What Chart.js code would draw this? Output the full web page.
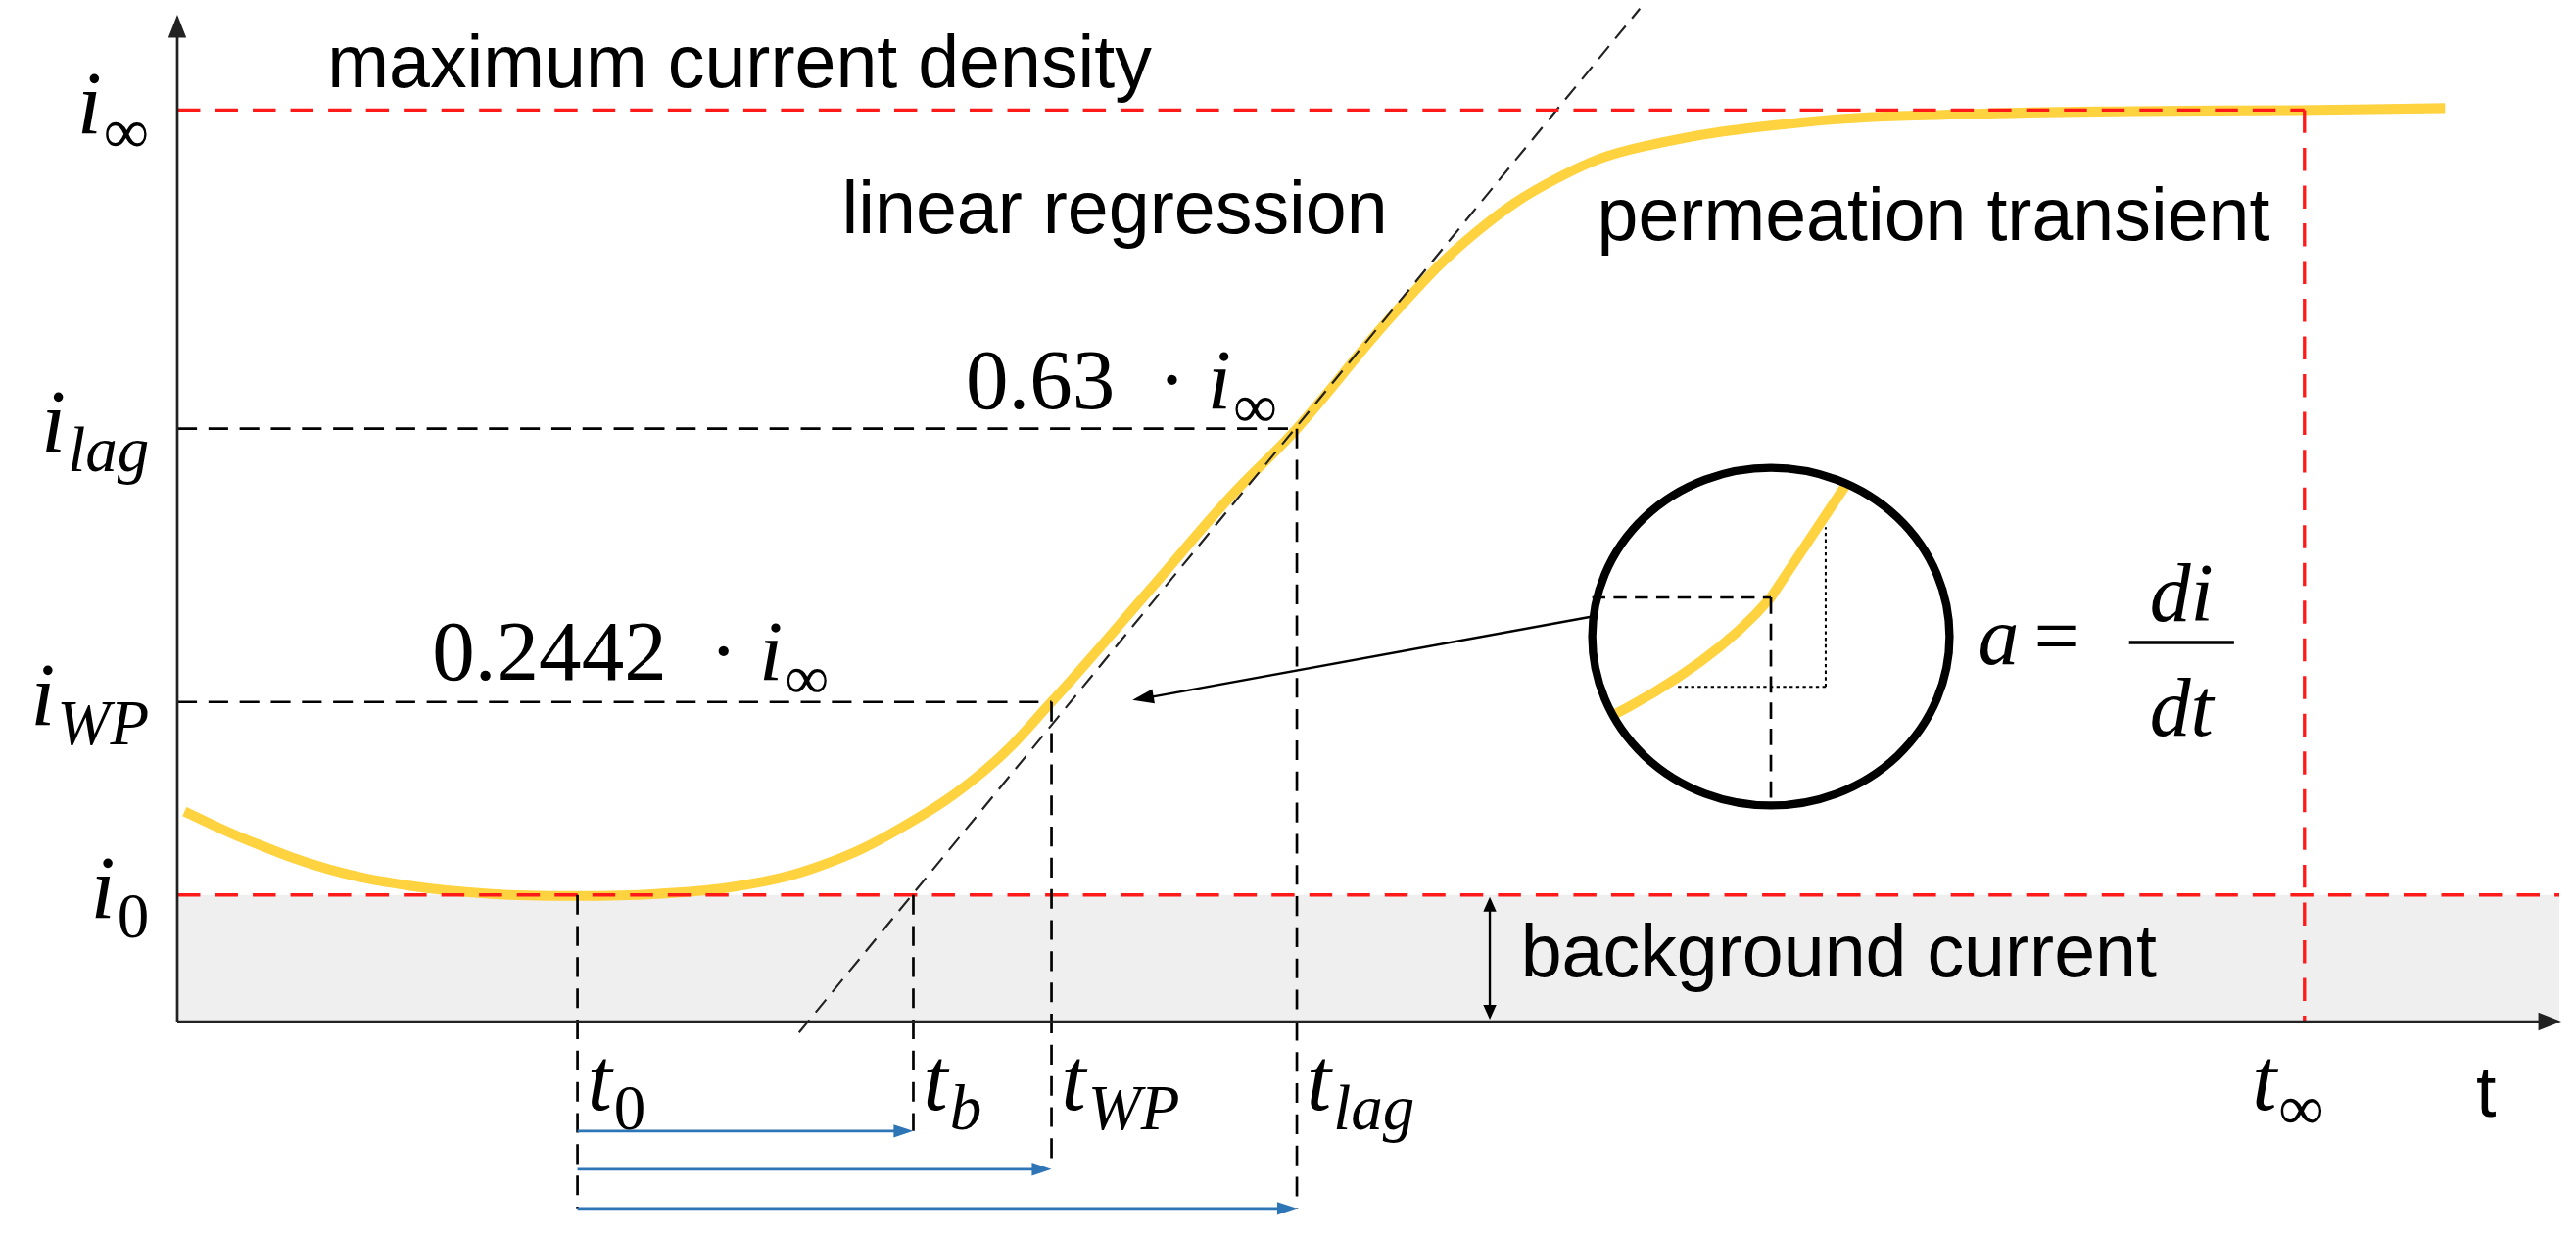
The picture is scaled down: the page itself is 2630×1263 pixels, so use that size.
<!DOCTYPE html>
<html>
<head>
<meta charset="utf-8">
<script src="https://cdn.jsdelivr.net/npm/chart.js@4"></script>
<style>
  html, body { margin: 0; padding: 0; background: #fff; }
  #wrap { width: 2630px; height: 1263px; }
</style>
</head>
<body>
<div id="wrap"><canvas id="chartId"></canvas></div>
<script>
// permeation transient curve (t, i) in arbitrary units
const curveT = [0.3, 2.9, 6.3, 9.8, 13.2, 16.7, 20.1, 23.6, 27.0, 30.4, 33.9, 36.7, 40.8, 44.2, 47.0, 51.1, 54.5, 58.0, 61.4, 68.3, 75.2, 82.1, 89.0, 95.2];
const curveI = [20.9, 18.1, 15.2, 13.5, 12.7, 12.5, 12.7, 13.5, 15.5, 19.3, 25.0, 31.8, 42.9, 52.2, 59.0, 70.5, 78.5, 84.0, 87.0, 89.5, 90.3, 90.6, 90.7, 90.9];
// linear regression line end points
const regT = [26.1, 61.4];
const regI = [-1.1, 100.8];
// characteristic levels and times
const levelNames = ["∞", "lag", "WP", "0"];
const levelValues = [90.7, 59.0, 31.8, 12.6];
const timeNames = ["0", "b", "WP", "lag", "∞"];
const timeValues = [16.8, 30.9, 36.7, 47.0, 89.3];

const S = 1.675;
const serif = "'Liberation Serif', 'DejaVu Serif', serif";
const sans = "Arial, 'Liberation Sans', sans-serif";

const toPts = (xs, ys) => xs.map((x, k) => ({ x: x, y: ys[k] }));

function mathLabel(ctx, x, y, main, sub, size, align) {
  ctx.save();
  ctx.textBaseline = "alphabetic";
  ctx.font = "italic " + size + "px " + serif;
  const w1 = ctx.measureText(main).width;
  const subIt = sub === "0" || sub === "∞" ? "" : "italic ";
  ctx.font = subIt + Math.round(size * 0.72) + "px " + serif;
  const w2 = ctx.measureText(sub).width;
  let x0 = align === "right" ? x - w1 - w2 - 4 : x;
  ctx.textAlign = "left";
  ctx.fillStyle = "#000";
  ctx.font = "italic " + size + "px " + serif;
  ctx.fillText(main, x0, y);
  ctx.font = subIt + Math.round(size * 0.72) + "px " + serif;
  ctx.fillText(sub, x0 + w1 + 2, y + size * 0.22);
  ctx.restore();
}

function line(ctx, x1, y1, x2, y2, color, width, dash) {
  ctx.save();
  ctx.strokeStyle = color;
  ctx.lineWidth = width;
  ctx.setLineDash(dash || []);
  ctx.beginPath();
  ctx.moveTo(x1, y1);
  ctx.lineTo(x2, y2);
  ctx.stroke();
  ctx.restore();
}

function arrowHead(ctx, x, y, angle, len, wid, color) {
  ctx.save();
  ctx.fillStyle = color;
  ctx.translate(x, y);
  ctx.rotate(angle);
  ctx.beginPath();
  ctx.moveTo(0, 0);
  ctx.lineTo(-len, -wid / 2);
  ctx.lineTo(-len, wid / 2);
  ctx.closePath();
  ctx.fill();
  ctx.restore();
}

const background = {
  id: "background",
  beforeDatasetsDraw(chart) {
    const { ctx, chartArea: a, scales: { x, y } } = chart;
    ctx.save();
    ctx.fillStyle = "#efefef";
    ctx.fillRect(a.left, y.getPixelForValue(levelValues[3]), a.right - a.left, y.getPixelForValue(0) - y.getPixelForValue(levelValues[3]));
    ctx.restore();
  }
};

const sketch = {
  id: "sketch",
  afterDatasetsDraw(chart) {
    const { ctx, chartArea: a, scales: { x, y } } = chart;
    const X = v => x.getPixelForValue(v), Y = v => y.getPixelForValue(v);
    const red = "#ff1a1a", dash = [14 * S, 9 * S], bdash = [12 * S, 7 * S];
    // red dashed limits
    line(ctx, a.left, Y(levelValues[0]), X(timeValues[4]), Y(levelValues[0]), red, 2 * S, dash);
    line(ctx, a.left, Y(levelValues[3]), a.right, Y(levelValues[3]), red, 2 * S, dash);
    line(ctx, X(timeValues[4]), Y(levelValues[0]), X(timeValues[4]), Y(0), red, 2 * S, dash);
    // black dashed guides
    line(ctx, a.left, Y(levelValues[1]), X(timeValues[3]), Y(levelValues[1]), "#000", 1.6 * S, bdash);
    line(ctx, a.left, Y(levelValues[2]), X(timeValues[2]), Y(levelValues[2]), "#000", 1.6 * S, bdash);
    const arrowRow = [-10.9, -14.7, -18.6];
    const vTop = [levelValues[3], levelValues[3], levelValues[2], levelValues[1]];
    const vBot = [-18.6, -10.9, -14.7, -18.6];
    for (let k = 0; k < 4; k++) {
      line(ctx, X(timeValues[k]), Y(vTop[k]), X(timeValues[k]), Y(vBot[k]), "#000", 1.6 * S, bdash);
    }
    // blue arrows
    for (let k = 0; k < 3; k++) {
      const xe = X(timeValues[k + 1]), ye = Y(arrowRow[k]);
      line(ctx, X(timeValues[0]), ye, xe - 10, ye, "#2e75b6", 1.6 * S);
      arrowHead(ctx, xe, ye, 0, 12 * S, 8 * S, "#2e75b6");
    }
    // axes
    line(ctx, a.left, Y(0), a.right - 8, Y(0), "#222", 1.6 * S);
    line(ctx, a.left, Y(0), a.left, a.top + 10, "#222", 1.6 * S);
    arrowHead(ctx, a.right + 2, Y(0), 0, 14 * S, 11 * S, "#222");
    arrowHead(ctx, a.left, a.top - 2, -Math.PI / 2, 14 * S, 11 * S, "#222");
    // y labels
    const ms = 54 * S;
    for (let k = 0; k < 4; k++) {
      mathLabel(ctx, a.left - 16 * S, Y(levelValues[k]) + 14 * S, "i", levelNames[k], ms, "right");
    }
    // t labels
    for (let k = 0; k < 5; k++) {
      mathLabel(ctx, X(timeValues[k]) + (k === 4 ? -32 * S : 6 * S), Y(0) + 54 * S, "t", timeNames[k], ms, "left");
    }
    ctx.save();
    ctx.fillStyle = "#000";
    ctx.font = 44 * S + "px " + sans;
    ctx.fillText("t", X(96.5), Y(0) + 58 * S);
    ctx.font = 45 * S + "px " + sans;
    ctx.fillText("maximum current density", X(6.3), Y(levelValues[0]) - 14 * S);
    ctx.fillText("linear regression", X(27.9), Y(78.5));
    ctx.fillText("permeation transient", X(59.6), Y(77.8));
    ctx.fillText("background current", X(56.4), Y(4.5));
    ctx.font = 52 * S + "px " + serif;
    ctx.fillText("0.63  \u00b7 ", X(33.1), Y(61));
    ctx.fillText("0.2442  \u00b7 ", X(10.7), Y(34));
    const w63 = ctx.measureText("0.63  \u00b7 ").width;
    const w24 = ctx.measureText("0.2442  \u00b7 ").width;
    ctx.restore();
    mathLabel(ctx, X(33.1) + w63, Y(61), "i", "∞", 52 * S, "left");
    mathLabel(ctx, X(10.7) + w24, Y(34), "i", "∞", 52 * S, "left");
    // double arrow for background current
    const xb = X(55.1);
    line(ctx, xb, Y(levelValues[3]) + 12, xb, Y(0) - 12, "#000", 1.4 * S);
    arrowHead(ctx, xb, Y(levelValues[3]) + 2, -Math.PI / 2, 9 * S, 8 * S, "#000");
    arrowHead(ctx, xb, Y(0) - 2, Math.PI / 2, 9 * S, 8 * S, "#000");
    // magnifier
    const cx = X(66.9), cy = Y(38.3), rx = x.getPixelForValue(66.9 + 7.5) - cx, ry = Y(38.3 - 16.8) - cy;
    line(ctx, X(59.4), Y(40.3), X(40.9), Y(32.3), "#000", 1.4 * S);
    arrowHead(ctx, X(40.1), Y(32.0), Math.atan2(Y(32.3) - Y(40.3), X(40.1) - X(59.4)), 13 * S, 9 * S, "#000");
    ctx.save();
    ctx.beginPath();
    ctx.ellipse(cx, cy, rx, ry, 0, 0, Math.PI * 2);
    ctx.fillStyle = "#fff";
    ctx.fill();
    ctx.clip();
    ctx.strokeStyle = "#ffd23f";
    ctx.lineWidth = 6 * S;
    ctx.beginPath();
    ctx.moveTo(X(59.8), Y(29.9));
    ctx.quadraticCurveTo(X(64.5), Y(35.5), cx, Y(42.2));
    ctx.lineTo(X(70.3), Y(54.3));
    ctx.stroke();
    ctx.restore();
    line(ctx, cx - rx, Y(42.2), cx, Y(42.2), "#000", 1.6 * S, [8 * S, 5 * S]);
    line(ctx, cx, Y(42.2), cx, cy + ry, "#000", 1.6 * S, [10 * S, 6 * S]);
    line(ctx, X(63.0), Y(33.3), X(69.2), Y(33.3), "#000", 1.2 * S, [2 * S, 2 * S]);
    line(ctx, X(69.2), Y(33.3), X(69.2), Y(49.2), "#000", 1.2 * S, [2 * S, 2 * S]);
    ctx.save();
    ctx.beginPath();
    ctx.ellipse(cx, cy, rx, ry, 0, 0, Math.PI * 2);
    ctx.lineWidth = 5 * S;
    ctx.strokeStyle = "#000";
    ctx.stroke();
    ctx.restore();
    // a = di/dt
    const fx = X(75.6), fy = Y(35.6);
    ctx.save();
    ctx.fillStyle = "#000";
    ctx.font = "italic " + 50 * S + "px " + serif;
    ctx.fillText("a", fx, fy);
    ctx.font = 50 * S + "px " + serif;
    ctx.fillText("=", fx + 34 * S, fy);
    ctx.font = "italic " + 50 * S + "px " + serif;
    ctx.textAlign = "center";
    ctx.fillText("di", fx + 124 * S, fy - 26 * S);
    ctx.fillText("dt", fx + 124 * S, fy + 44 * S);
    ctx.restore();
    line(ctx, fx + 92 * S, fy - 13 * S, fx + 156 * S, fy - 13 * S, "#000", 2 * S);
  }
};

new Chart(document.getElementById("chartId"), {
  type: "scatter",
  data: {
    datasets: [
      {
        label: "permeation transient",
        data: toPts(curveT, curveI),
        showLine: true,
        tension: 0.4,
        borderColor: "#ffd23f",
        borderWidth: 6 * S,
        pointRadius: 0,
        order: 2
      },
      {
        label: "linear regression",
        data: toPts(regT, regI),
        showLine: true,
        borderColor: "#222",
        borderWidth: 1.3 * S,
        borderDash: [10 * S, 6 * S],
        pointRadius: 0,
        clip: false,
        order: 1
      }
    ]
  },
  options: {
    responsive: true,
    maintainAspectRatio: false,
    animation: false,
    layout: { padding: { left: 181, right: 17, top: 17, bottom: 220 } },
    scales: {
      x: { type: "linear", min: 0, max: 100, display: false },
      y: { type: "linear", min: 0, max: 100, display: false }
    },
    plugins: { legend: { display: false }, tooltip: { enabled: false } }
  },
  plugins: [background, sketch]
});
</script>
</body>
</html>
